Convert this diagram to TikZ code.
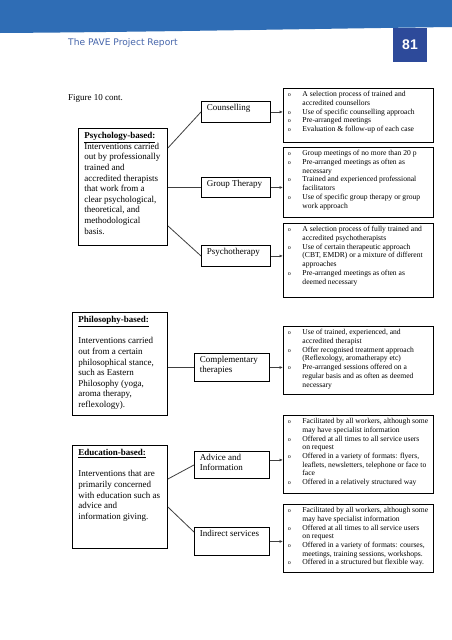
\documentclass[tikz,border=0pt]{standalone}
\usepackage{fontspec}
\setmainfont{Liberation Serif}
\newfontfamily\hdrfont{DejaVu Sans}
\newfontfamily\numfont{Liberation Sans}
\usetikzlibrary{arrows.meta}
\definecolor{bandblue}{HTML}{2F6DB5}
\definecolor{hdrtext}{HTML}{4565AA}
\definecolor{numblue}{HTML}{2D4A9A}
\definecolor{linkgray}{HTML}{404040}
\newcommand{\tbx}[3]{\begin{minipage}[c][#1][t]{#2}\raggedright\setlength{\parindent}{0pt}#3\end{minipage}}
\newcommand{\itm}[1]{\par\begingroup\let\\\newline\hangindent=15pt\hangafter=1\noindent\makebox[15pt][l]{\hspace{0.5pt}{\fontsize{6}{8}\selectfont o}}#1\par\endgroup}
\tikzset{
  rbox/.style={draw, line width=0.9pt, anchor=north west, inner xsep=4pt, inner ysep=3pt, font=\fontsize{7.6}{8.7}\selectfont},
  lbox/.style={draw, line width=0.9pt, anchor=north west, inner xsep=6pt, inner ysep=4pt, font=\fontsize{9}{10.6}\selectfont},
  mbox/.style={draw, line width=0.9pt, anchor=north west, inner xsep=5.5pt, inner ysep=3pt, font=\fontsize{9}{10}\selectfont},
  link/.style={draw=linkgray, line width=0.8pt},
  arr/.style={link, -{Latex[length=3.5pt,width=3pt]}},
}
\begin{document}
\begin{tikzpicture}[x=1pt,y=-1pt]
\useasboundingbox (0,0) rectangle (452,640);
\fill[white] (0,0) rectangle (452,640);
% header
\fill[bandblue] (0,0) -- (452,0) -- (452,27) .. controls (300,29) and (150,32) .. (0,33) -- cycle;
\node[anchor=west, text=hdrtext, font=\hdrfont\fontsize{9.1}{11}\selectfont, inner sep=0] (title) at (68,43) {The PAVE Project Report};
\node[fill=numblue, minimum width=34pt, minimum height=34pt, inner sep=0, text=white, font=\numfont\bfseries\fontsize{14}{16}\selectfont] (pg) at (410,45) {81};
\node[anchor=west, inner sep=0, font=\fontsize{9}{11}\selectfont] (fig) at (68,98) {Figure 10 cont.};

% Psychology section
\node[lbox] (psyL) at (78,128) {\tbx{109pt}{77pt}{\underline{\textbf{Psychology-based:}}\\
Interventions carried\\ out by professionally\\ trained and\\ accredited therapists\\ that work from a\\ clear psychological,\\ theoretical, and\\ methodological\\ basis.}};
\node[mbox] (couns) at (201,101) {\tbx{15pt}{58pt}{Counselling}};
\node[mbox] (group) at (201,177) {\tbx{14pt}{58pt}{Group Therapy}};
\node[mbox] (psychot) at (201,245) {\tbx{15pt}{58pt}{Psychotherapy}};
\node[rbox] (R1) at (283,88) {\tbx{48pt}{142pt}{%
\itm{A selection process of trained and\\ accredited counsellors}
\itm{Use of specific counselling approach}
\itm{Pre-arranged meetings}
\itm{Evaluation \& follow-up of each case}}};
\node[rbox] (R2) at (283,147) {\tbx{64pt}{142pt}{%
\itm{Group meetings of no more than 20 p}
\itm{Pre-arranged meetings as often as\\ necessary}
\itm{Trained and experienced professional\\ facilitators}
\itm{Use of specific group therapy or group\\ work approach}}};
\node[rbox] (R3) at (283,223) {\tbx{68pt}{142pt}{%
\itm{A selection process of fully trained and\\ accredited psychotherapists}
\itm{Use of certain therapeutic approach\\ (CBT, EMDR) or a mixture of different\\ approaches}
\itm{Pre-arranged meetings as often as\\ deemed necessary}}};
\draw[link] ([yshift=-20pt]psyL.north east) -- (couns.west);
\draw[link] (psyL.east |- group.west) -- (group.west);
\draw[link] ([yshift=20pt]psyL.south east) -- (psychot.west);
\draw[arr] (couns.east) -- (couns.east -| R1.west);
\draw[arr] (group.east) -- (group.east -| R2.west);
\draw[arr] (psychot.east) -- (psychot.east -| R3.west);

% Philosophy section
\node[lbox] (phL) at (72,312) {\tbx{95pt}{83pt}{\underline{\textbf{Philosophy-based:}}\\[10.6pt]
Interventions carried\\ out from a certain\\ philosophical stance,\\ such as Eastern\\ Philosophy (yoga,\\ aroma therapy,\\ reflexology).}};
\node[mbox] (comp) at (194,353) {\tbx{22pt}{64pt}{Complementary\\ therapies}};
\node[rbox] (phR) at (283,326) {\tbx{62pt}{142pt}{%
\itm{Use of trained, experienced, and\\ accredited therapist}
\itm{Offer recognised treatment approach\\ (Reflexology, aromatherapy etc)}
\itm{Pre-arranged sessions offered on a\\ regular basis and as often as deemed\\ necessary}}};
\draw[link] (phL.east |- comp.west) -- (comp.west);
\draw[arr] (comp.east) -- (comp.east -| phR.west);

% Education section
\node[lbox] (edL) at (72,445) {\tbx{95pt}{83pt}{\underline{\textbf{Education-based:}}\\[10.6pt]
Interventions that are\\ primarily concerned\\ with education such as\\ advice and\\ information giving.}};
\node[mbox] (adv) at (194,451) {\tbx{21pt}{64pt}{Advice and\\ Information}};
\node[mbox] (ind) at (194,527) {\tbx{22pt}{64pt}{Indirect services}};
\node[rbox] (edR1) at (283,415) {\tbx{72pt}{142pt}{%
\itm{Facilitated by all workers, although some\\ may have specialist information}
\itm{Offered at all times to all service users\\ on request}
\itm{Offered in a variety of formats: flyers,\\ leaflets, newsletters, telephone or face to\\ face}
\itm{Offered in a relatively structured way}}};
\node[rbox] (edR2) at (283,504) {\tbx{62pt}{142pt}{%
\itm{Facilitated by all workers, although some\\ may have specialist information}
\itm{Offered at all times to all service users\\ on request}
\itm{Offered in a variety of formats: courses,\\ meetings, training sessions, workshops.}
\itm{Offered in a structured but flexible way.}}};
\draw[link] ([yshift=-34pt]edL.north east) -- (adv.west);
\draw[link] ([yshift=-62pt]edL.north east) -- ([yshift=-5pt]ind.north west);
\draw[arr] ([yshift=5pt]adv.east) -- ([yshift=5pt]adv.east -| edR1.west);
\draw[arr] (ind.east) -- (ind.east -| edR2.west);
\end{tikzpicture}
\end{document}
